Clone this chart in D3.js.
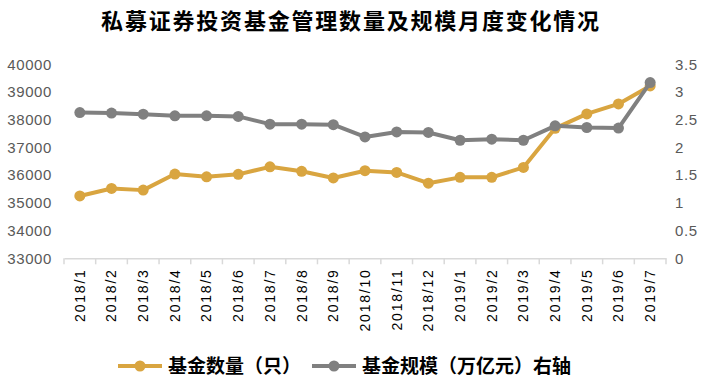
<!DOCTYPE html>
<html><head><meta charset="utf-8">
<script src="https://cdn.jsdelivr.net/npm/d3@7"></script>
<style>body{margin:0;background:#fff}svg{display:block}</style>
</head><body><svg id="c" width="705" height="386"></svg>
<script>
const months = ["2018/1","2018/2","2018/3","2018/4","2018/5","2018/6","2018/7","2018/8","2018/9","2018/10","2018/11","2018/12","2019/1","2019/2","2019/3","2019/4","2019/5","2019/6","2019/7"];
const fundCount = [35250,35520,35460,36040,35940,36030,36300,36140,35900,36160,36100,35710,35920,35920,36280,37690,38210,38570,39220];
const fundScale = [2.63,2.62,2.60,2.57,2.57,2.56,2.42,2.42,2.41,2.19,2.28,2.27,2.13,2.15,2.13,2.39,2.36,2.35,3.17];
const leftTicks = [33000,34000,35000,36000,37000,38000,39000,40000];
const rightTicks = [0,0.5,1,1.5,2,2.5,3,3.5];
const title = "私募证券投资基金管理数量及规模月度变化情况";
const legendNames = ["基金数量（只）","基金规模（万亿元）右轴"];
const colors = ["#D9A540","#808080"];

const svg = d3.select("#c");
const L = 64, R = 666, T = 64.3, B = 258.3;
const x = d3.scaleBand().domain(months).range([L, R]);
const yL = d3.scaleLinear().domain([33000,40000]).range([B, T]);
const yR = d3.scaleLinear().domain([0,3.5]).range([B, T]);
const font = "'Liberation Sans', Arial, sans-serif";

svg.append("text").attr("x", 351).attr("y", 29).attr("text-anchor","middle")
  .attr("font-family","'Noto Sans CJK SC'").attr("font-weight","bold").attr("font-size",22)
  .attr("letter-spacing",1.8).attr("fill","#000").text(title);

// left axis
const gl = svg.append("g").attr("transform",`translate(${L},0)`)
  .call(d3.axisLeft(yL).tickValues(leftTicks).tickSize(0).tickPadding(12).tickFormat(d3.format("d")));
gl.select(".domain").remove();
gl.selectAll("text").attr("font-family",font).attr("font-size",15).attr("letter-spacing",0.6).attr("fill","#595959");

// right axis
const gr = svg.append("g").attr("transform",`translate(${R},0)`)
  .call(d3.axisRight(yR).tickValues(rightTicks).tickSize(0).tickPadding(9).tickFormat(d=>String(d)));
gr.select(".domain").remove();
gr.selectAll("text").attr("font-family",font).attr("font-size",15).attr("letter-spacing",0.6).attr("fill","#595959");

// bottom axis
const gb = svg.append("g").attr("transform",`translate(0,${B})`)
  .call(d3.axisBottom(x).tickSize(0).tickPadding(0));
gb.select(".domain").attr("stroke","#d9d9d9").attr("stroke-width",1.5);
gb.selectAll(".tick line").remove();
const edges = months.map(m => x(m)).concat([R]);
gb.selectAll("line.tk").data(edges).enter().append("line").attr("class","tk")
  .attr("x1",d=>d).attr("x2",d=>d).attr("y1",0).attr("y2",6)
  .attr("stroke","#d9d9d9").attr("stroke-width",1.5);
gb.selectAll(".tick text").attr("font-family",font).attr("font-size",14).attr("letter-spacing",1.8).attr("fill","#000")
  .attr("transform","rotate(-90)").attr("text-anchor","end").attr("dx",-10).attr("dy","0.35em").attr("y",0).attr("x",0);

const cx = m => x(m) + x.bandwidth()/2;
function series(vals, ys, color){
  const pts = months.map((m,i)=>[cx(m), ys(vals[i])]);
  svg.append("path").attr("d", d3.line()(pts)).attr("fill","none")
    .attr("stroke",color).attr("stroke-width",4).attr("stroke-linejoin","round");
  svg.append("g").selectAll("circle").data(pts).enter().append("circle")
    .attr("cx",d=>d[0]).attr("cy",d=>d[1]).attr("r",5.5).attr("fill",color);
}
series(fundCount, yL, colors[0]);
series(fundScale, yR, colors[1]);

// legend
const lg = [{x:118, t:legendNames[0], c:colors[0]},{x:312, t:legendNames[1], c:colors[1]}];
lg.forEach(d=>{
  svg.append("line").attr("x1",d.x).attr("x2",d.x+44).attr("y1",366).attr("y2",366)
    .attr("stroke",d.c).attr("stroke-width",4);
  svg.append("circle").attr("cx",d.x+22).attr("cy",366).attr("r",5.5).attr("fill",d.c);
  svg.append("text").attr("x",d.x+50).attr("y",372.5).attr("font-family","'Noto Sans CJK SC'")
    .attr("font-weight","bold").attr("font-size",19).attr("fill","#000").text(d.t);
});
</script></body></html>
